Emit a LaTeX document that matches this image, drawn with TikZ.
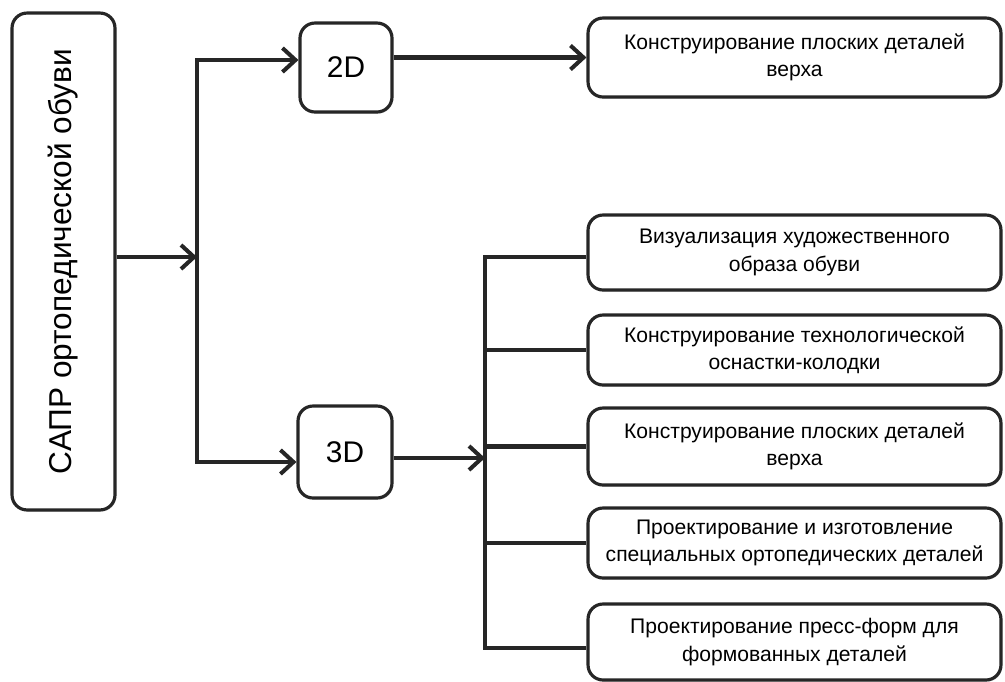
\documentclass[tikz,border=0pt]{standalone}
\usepackage{fontspec}
\setmainfont{Liberation Sans}
\usetikzlibrary{arrows.meta,positioning,shadows}
\colorlet{dk}{black!85}
\tikzset{bx/.style={rectangle, rounded corners=0.3cm, draw=dk, line width=1.8pt, fill=white,
            align=center, inner sep=2pt,
            drop shadow={shadow xshift=0.7pt, shadow yshift=-0.9pt, opacity=0.35}},
         rb/.style={bx, minimum width=8.26cm, minimum height=#1,
            font=\fontsize{12}{15.5}\selectfont},
         wire/.style={draw=dk, line width=2.3pt},
         ar/.style={wire, -{Straight Barb[length=2.6mm,width=4.8mm]}}}

\begin{document}
\begin{tikzpicture}[x=0.02cm, y=-0.02cm]
\useasboundingbox (0,0) rectangle (1005,681);

 % left column
 \node[bx, rotate=90, minimum width=9.94cm, minimum height=2.06cm,
       font=\fontsize{18}{20}\selectfont] (root) at (63.5,261.5) {САПР ортопедической обуви};
 \node[bx, minimum width=1.84cm, minimum height=1.78cm, font=\fontsize{17}{19}\selectfont]
       (d2) at (346,67.5) {2D};
 \node[bx, minimum width=1.88cm, minimum height=1.84cm, font=\fontsize{17}{19}\selectfont]
       (d3) at (345,452) {3D};

 % right column
 \node[rb=1.58cm] (t0) at (794.5,57.5) {Конструирование плоских деталей\\верха};
 \node[rb=1.5cm]  (c1) at (794.5,252.5) {Визуализация художественного\\образа обуви};
 \node[rb=1.4cm]  (c2) at (794.5,350) {Конструирование технологической\\оснастки-колодки};
 \node[rb=1.54cm] (c3) at (794.5,446.5) {Конструирование плоских деталей\\верха};
 \node[rb=1.4cm]  (c4) at (794.5,543) {Проектирование и изготовление\\специальных ортопедических деталей};
 \node[rb=1.52cm] (c5) at (794.5,642) {Проектирование пресс-форм для\\формованных деталей};

 \coordinate (j)  at (197,257);
 \coordinate (jt) at (197,60);
 \coordinate (jb) at (197,462);
 \coordinate (bt) at (485,257);
 \coordinate (bm) at (485,458);
 \coordinate (bb) at (485,648);

 \draw[ar] (root.south |- j) -- (j);
 \draw[ar] (jb) -- (jt) -- (d2.west |- jt);
 \draw[ar] (jt) -- (jb) -- (d3.west |- jb);
 \draw[ar] (d2.east |- t0.west) -- (t0.west);
 \draw[ar] (d3.east |- bm) -- (bm);

 \draw[wire] (c1.west |- bt) -- (bt) -- (bb) -- (c5.west |- bb);
 \foreach \c in {c2,c3,c4}
   \draw[wire] (bt |- \c.west) -- (\c.west);
\end{tikzpicture}
\end{document}
